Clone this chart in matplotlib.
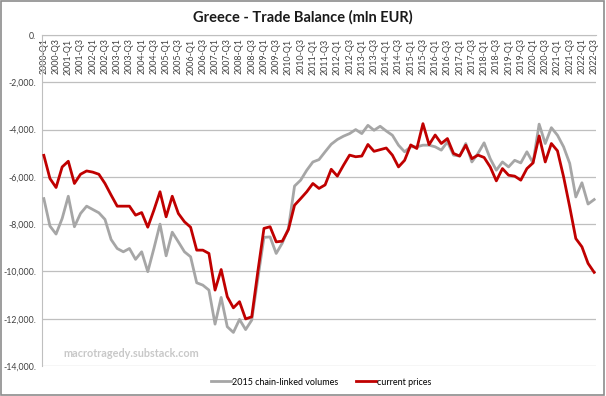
import matplotlib
matplotlib.use("Agg")
import matplotlib.pyplot as plt
from matplotlib.patches import Rectangle
from matplotlib.ticker import FuncFormatter

plt.rcParams["font.family"] = ["Lato", "DejaVu Sans"]

# quarterly, 2000-Q1 .. 2022-Q3
quarters = [f"{y}-Q{q}" for y in range(2000, 2023) for q in range(1, 5)][:91]

chain_linked = [
    -6920, -8080, -8420, -7760, -6820, -8110, -7550, -7240, -7380, -7520,
    -7800, -8650, -9030, -9170, -9030, -9490, -9170, -10010, -9030, -8000,
    -9340, -8340, -8750, -9170, -9380, -10480, -10580, -10790, -12230, -11100,
    -12340, -12580, -12030, -12460, -12060, -10300, -8560, -8540, -9240, -8800,
    -8180, -6390, -6140, -5720, -5370, -5270, -4940, -4620, -4420, -4280,
    -4170, -4000, -4170, -3820, -4030, -3860, -4060, -4240, -4660, -4940,
    -4730, -4730, -4660, -4660, -4730, -4870, -4520, -5080, -5120, -4590,
    -5370, -5010, -4560, -5230, -5720, -5370, -5580, -5300, -5410, -4940,
    -5410, -3770, -4590, -3920, -4240, -4730, -5430, -6850, -6250, -7150, -6960,
]

current_prices = [
    -5090, -6070, -6450, -5580, -5340, -6280, -5890, -5750, -5800, -5890,
    -6280, -6770, -7240, -7240, -7240, -7620, -7510, -8130, -7410, -6630,
    -7690, -6820, -7550, -7900, -8130, -9100, -9100, -9240, -10790, -9920,
    -11070, -11540, -11280, -12010, -11920, -10000, -8180, -8110, -8750, -8720,
    -8230, -7200, -6920, -6630, -6280, -6490, -6340, -5680, -5970, -5510,
    -5080, -5150, -5120, -4630, -4920, -4850, -4780, -5080, -5580, -5300,
    -4650, -4800, -3750, -4640, -4230, -4590, -4380, -5010, -5120, -4660,
    -5230, -5080, -5180, -5580, -6170, -5650, -5930, -5970, -6140, -5650,
    -5410, -4270, -5370, -4590, -4900, -6000, -7270, -8610, -8960, -9660, -10040,
]

fig = plt.figure(figsize=(6.06, 3.96), dpi=100)
ax = fig.add_axes([0.0693, 0.0758, 0.9142, 0.8358])

x = list(range(len(quarters)))
ax.plot(x, chain_linked, color="#A6A6A6", lw=2.0, label="2015 chain-linked volumes", zorder=3)
ax.plot(x, current_prices, color="#C00000", lw=2.0, label="current prices", zorder=4)

ax.set_ylim(-14000, 0)
ax.set_xlim(-0.3, len(quarters) - 0.7)
ax.set_yticks(range(-14000, 1, 2000))
ax.yaxis.set_major_formatter(FuncFormatter(lambda v, _: f"{v:,.0f}."))
ax.grid(axis="y", color="#BFBFBF", lw=0.9)
ax.set_axisbelow(True)

# category axis sits at zero (top), labels hanging into the plot
ax.set_xticks(x[::2])
ax.set_xticklabels(quarters[::2], rotation=90)
ax.tick_params(axis="x", top=False, bottom=False, labeltop=True, labelbottom=False,
               pad=-6, labelsize=6.4, labelcolor="#404040")
for lbl in ax.get_xticklabels():
    lbl.set_va("top")
ax.tick_params(axis="y", length=0, labelsize=6.3, labelcolor="#404040", pad=4)

for side in ["right", "bottom"]:
    ax.spines[side].set_visible(False)
ax.spines["left"].set_color("#BFBFBF")
ax.spines["top"].set_color("#BFBFBF")

fig.suptitle("Greece - Trade Balance (mln EUR)", x=0.5, y=0.975, fontsize=10.5,
             fontweight="bold", color="#1a1a1a")

ax.text(0.038, 0.028, "macrotragedy.substack.com", transform=ax.transAxes,
        fontsize=7.8, fontweight="bold", color="#C8C8C8")

fig.legend(loc="center", bbox_to_anchor=(0.53, 0.035), ncol=2, frameon=False,
           fontsize=6.5, handlelength=2.2, handletextpad=0.1, columnspacing=2.0)

fig.patches.append(Rectangle((0.001, 0.002), 0.996, 0.995, transform=fig.transFigure,
                             fill=False, edgecolor="#8C8C8C", lw=1.2))

fig.savefig("out.png", dpi=100)
